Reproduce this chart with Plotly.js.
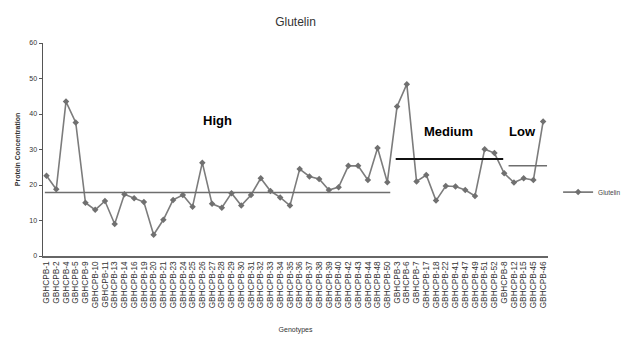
<!DOCTYPE html>
<html>
<head>
<meta charset="utf-8">
<script src="https://cdn.plot.ly/plotly-3.0.1.min.js"></script>
<style>html,body{margin:0;padding:0;background:#fff;}#chart{width:638px;height:342px;}</style>
</head>
<body>
<div id="chart"></div>
<script>
// Genotype labels (x axis categories)
const genotypes = [
  "GBHCPB-1","GBHCPB-2","GBHCPB-4","GBHCPB-5","GBHCPB-9","GBHCPB-10","GBHCPB-11","GBHCPB-13",
  "GBHCPB-14","GBHCPB-16","GBHCPB-19","GBHCPB-20","GBHCPB-21","GBHCPB-23","GBHCPB-24","GBHCPB-25",
  "GBHCPB-26","GBHCPB-27","GBHCPB-28","GBHCPB-29","GBHCPB-30","GBHCPB-31","GBHCPB-32","GBHCPB-33",
  "GBHCPB-34","GBHCPB-35","GBHCPB-36","GBHCPB-37","GBHCPB-38","GBHCPB-39","GBHCPB-40","GBHCPB-42",
  "GBHCPB-43","GBHCPB-44","GBHCPB-48","GBHCPB-50",
  "GBHCPB-3","GBHCPB-6","GBHCPB-7","GBHCPB-17","GBHCPB-18","GBHCPB-22","GBHCPB-41","GBHCPB-47",
  "GBHCPB-49","GBHCPB-51","GBHCPB-52",
  "GBHCPB-8","GBHCPB-12","GBHCPB-15","GBHCPB-45","GBHCPB-46"
];
// Glutelin protein concentration
const glutelin = [
  22.6,18.8,43.5,37.6,15.0,13.0,15.5,9.0,17.4,16.3,15.2,6.0,10.2,15.8,17.2,13.9,
  26.3,14.7,13.6,17.7,14.2,17.2,21.9,18.3,16.5,14.2,24.5,22.4,21.7,18.6,19.4,25.4,
  25.4,21.4,30.4,20.8,
  42.1,48.4,21.0,22.8,15.6,19.7,19.6,18.6,16.9,30.1,29.0,
  23.3,20.7,21.9,21.4,37.9
];
// Group mean lines (High, Medium, Low)
const groupNames = ["High","Medium","Low"];
const groupLevels = [17.9, 27.3, 25.4];
const groupStart = [-0.17, 35.86, 47.45];
const groupEnd = [35.3, 46.9, 51.4];
const groupColors = ["#6e6e6e","#111111","#6e6e6e"];
const groupWidths = [1.5, 2, 1.5];

const trace = {
  x: genotypes, y: glutelin, type: "scatter", mode: "lines+markers", name: "Glutelin",
  line: {color: "#7c7c7c", width: 1.6},
  marker: {symbol: "diamond", size: 5, color: "#707070"}
};

const shapes = groupLevels.map((lv, i) => ({
  type: "line", xref: "x", yref: "y",
  x0: groupStart[i], x1: groupEnd[i], y0: lv, y1: lv,
  line: {color: groupColors[i], width: groupWidths[i]}
}));

const annotations = [
  {text: "<b>High</b>", x: 17.6, y: 38.1, xref: "x", yref: "y", showarrow: false,
   font: {family: "Liberation Sans, Arial", size: 13, color: "#000"}},
  {text: "<b>Medium</b>", x: 41.3, y: 35.1, xref: "x", yref: "y", showarrow: false,
   font: {family: "Liberation Sans, Arial", size: 13, color: "#000"}},
  {text: "<b>Low</b>", x: 48.85, y: 35.1, xref: "x", yref: "y", showarrow: false,
   font: {family: "Liberation Sans, Arial", size: 13, color: "#000"}}
];

const layout = {
  width: 638, height: 342,
  margin: {l: 43, r: 68, t: 43, b: 86},
  paper_bgcolor: "#fff", plot_bgcolor: "#fff",
  font: {family: "Liberation Sans, Arial", color: "#333"},
  title: {text: "Glutelin", x: 0.5, xref: "paper", y: 0.95, yref: "container",
          font: {family: "Liberation Sans, Arial", size: 12, color: "#333"}},
  xaxis: {
    type: "category", range: [-0.36, 51.5], showgrid: false, zeroline: false,
    showline: true, linecolor: "#666", linewidth: 2,
    tickmode: "linear", tick0: 0, dtick: 1,
    ticks: "", tickangle: -90, tickfont: {size: 8.3, color: "#333"},
    title: {text: "Genotypes", font: {size: 7, color: "#333"}, standoff: 20}
  },
  yaxis: {
    range: [0, 60], dtick: 10, showgrid: false, zeroline: false,
    showline: true, linecolor: "#555", linewidth: 1.5,
    ticks: "outside", ticklen: 3, tickcolor: "#555",
    tickfont: {size: 7, color: "#333"},
    title: {text: "<b>Protein Concentration</b>", font: {size: 7, color: "#333"}, standoff: 8}
  },
  showlegend: true,
  legend: {x: 1.02, y: 0.30, xanchor: "left", yanchor: "middle", font: {size: 6.5, color: "#444"},
           bgcolor: "rgba(0,0,0,0)", itemwidth: 30},
  shapes: shapes,
  annotations: annotations
};

Plotly.newPlot("chart", [trace], layout, {displayModeBar: false, staticPlot: true});
</script>
</body>
</html>
